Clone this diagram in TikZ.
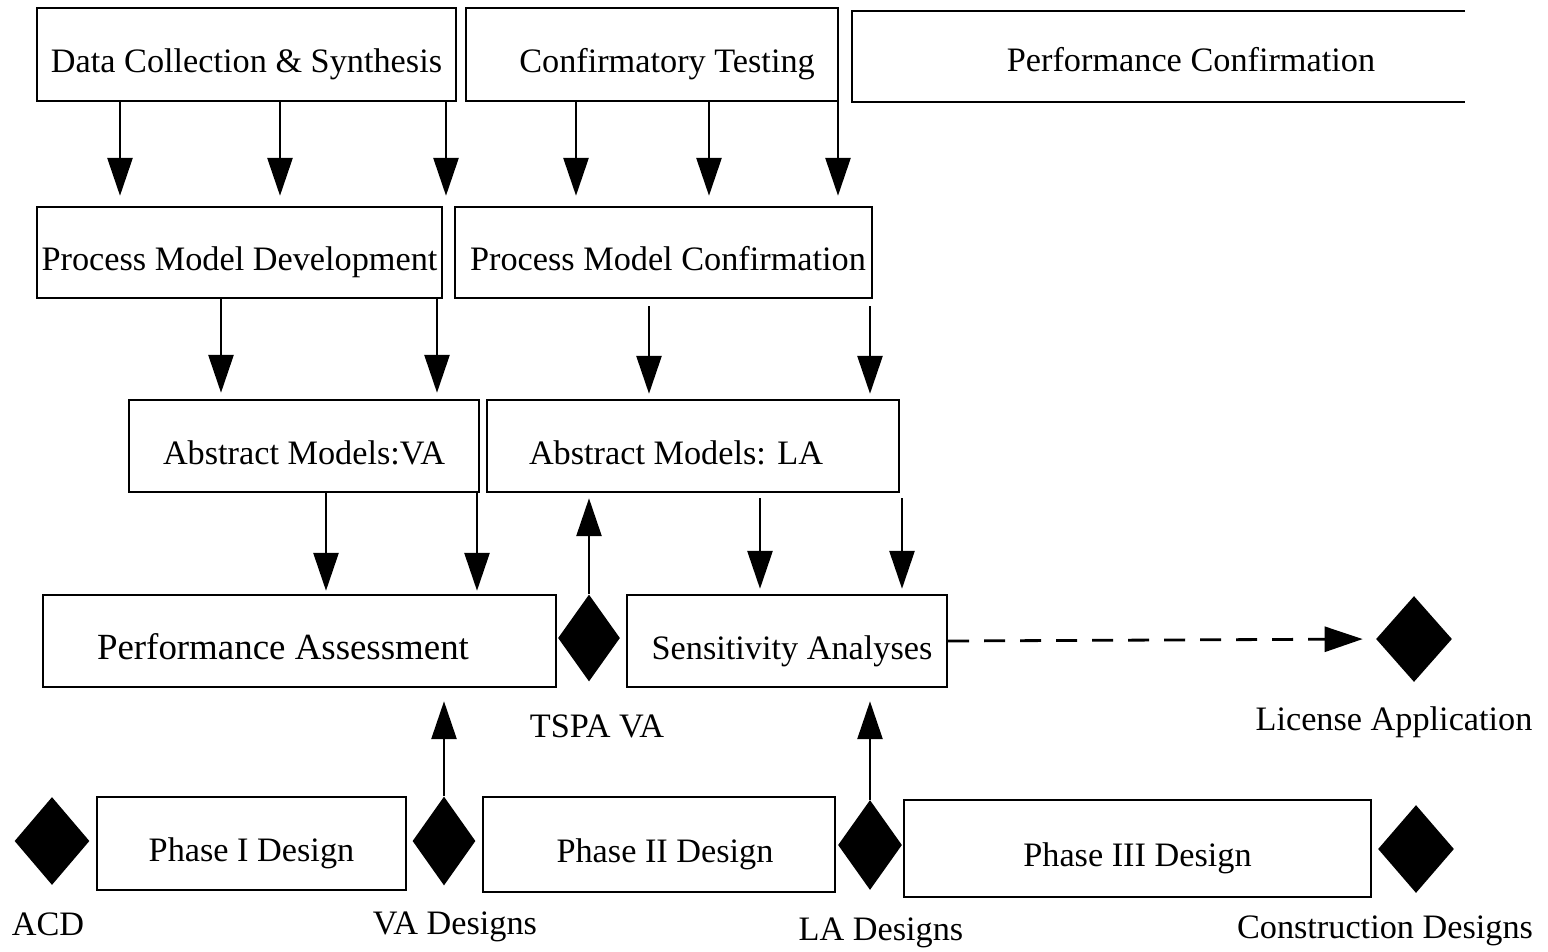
\documentclass[tikz,border=0pt]{standalone}
\usepackage{fontspec}
\setmainfont{Liberation Serif}
\usetikzlibrary{positioning,shapes.geometric,arrows.meta}

\tikzset{
  box/.style={draw, line width=1.4pt, inner sep=0pt, text height=21pt, text depth=0pt,
    font=\fontsize{19.5}{23}\selectfont},
  milestone/.style={diamond, fill=black, inner sep=0pt, minimum width=1.5cm, minimum height=1.76cm},
  flow/.style={line width=1.6pt, -{Triangle[length=0.76cm, width=0.5cm]}},
  lbl/.style={font=\fontsize{19.5}{23}\selectfont, inner sep=0pt},
}

\begin{document}
\begin{tikzpicture}[x=0.02cm, y=-0.02cm]
\useasboundingbox (0,0) rectangle (1548,951);

% top row
\node[box, minimum width=8.38cm, minimum height=1.86cm] (dcs) at (246.5,54.5) {Data Collection \& Synthesis};
\node[box, minimum width=7.44cm, minimum height=1.86cm] (ct)  at (652,54.5) {\hspace*{0.6cm}Confirmatory Testing};
\node[lbl] (pc) at (1191,60) {Performance Confirmation};
\draw[line width=1.4pt] (1465,11) -- (852,11) -- (852,102) -- (1465,102);

% process models
\node[box, minimum width=8.1cm, minimum height=1.82cm]  (pmd) at (239.5,252.5) {Process Model Development};
\node[box, minimum width=8.34cm, minimum height=1.82cm] (pmc) at (663.5,252.5) {\hspace*{0.18cm}Process Model Confirmation};

% abstract models
\node[box, minimum width=7cm, minimum height=1.84cm]    (amva) at (304,446) {Abstract Models:VA};
\node[box, minimum width=8.24cm, minimum height=1.84cm] (amla) at (693,446) {Abstract Models: LA\hspace*{0.68cm}};

% assessments
\node[box, minimum width=10.26cm, minimum height=1.84cm, font=\fontsize{21}{25}\selectfont] (pa) at (299.5,641) {Performance Assessment\hspace*{0.66cm}};
\node[milestone, minimum width=1.24cm, minimum height=1.74cm] (tspa) at (589,638) {};
\node[box, minimum width=6.4cm, minimum height=1.84cm] (sa) at (787,641) {\hspace*{0.2cm}Sensitivity Analyses};
\node[milestone, minimum width=1.52cm, minimum height=1.72cm] (lic) at (1414,639) {};

\node[lbl] (tspalbl) at (597,726) {TSPA VA};
\node[lbl] (liclbl)  at (1394,722) {License Application};

% design phases
\node[milestone] (acd) at (52,841) {};
\node[box, minimum width=6.18cm, minimum height=1.86cm] (ph1) at (251.5,843.5) {Phase I Design};
\node[milestone, minimum width=1.26cm, minimum height=1.78cm] (vad) at (444,841) {};
\node[box, minimum width=7.04cm, minimum height=1.9cm] (ph2) at (659,844.5) {\hspace*{0.24cm}Phase II Design};
\node[milestone, minimum width=1.28cm, minimum height=1.8cm] (lad) at (870,845) {};
\node[box, minimum width=9.34cm, minimum height=1.94cm] (ph3) at (1137.5,848.5) {Phase III Design};
\node[milestone, minimum width=1.52cm] (cd) at (1416,849) {};

\node[lbl] (acdlbl) at (48,924)   {ACD};
\node[lbl] (vadlbl) at (455,927)  {VA Designs};
\node[lbl] (ladlbl) at (881,933)  {LA Designs};
\node[lbl] (cdlbl)  at (1385,931) {Construction Designs};

% flows
\foreach \x in {120,280,446} \draw[flow, shorten >=0.2cm] (dcs.south -| \x,0) -- (pmd.north -| \x,0);
\foreach \x in {576,709,838} \draw[flow, shorten >=0.2cm] (ct.south -| \x,0) -- (pmc.north -| \x,0);
\foreach \x in {221,437} \draw[flow, shorten >=0.12cm] (pmd.south -| \x,0) -- (amva.north -| \x,0);
\foreach \x in {649,870} \draw[flow, shorten <=0.14cm, shorten >=0.1cm] (pmc.south -| \x,0) -- (amla.north -| \x,0);
\foreach \x in {326,477} \draw[flow, shorten >=0.06cm] (amva.south -| \x,0) -- (pa.north -| \x,0);
\foreach \x in {760,902} \draw[flow, shorten <=0.1cm, shorten >=0.1cm] (amla.south -| \x,0) -- (sa.north -| \x,0);

\draw[flow, shorten >=0.1cm] (tspa.north) -- (amla.south -| tspa.north);
\draw[flow, shorten >=0.26cm] (vad.north) -- (pa.south -| vad.north);
\draw[flow, shorten >=0.26cm] (lad.north) -- (sa.south -| lad.north);
\draw[flow, dash pattern=on 0.42cm off 0.3cm, shorten >=0.26cm] (sa.east) -- (lic.west);

\end{tikzpicture}
\end{document}
